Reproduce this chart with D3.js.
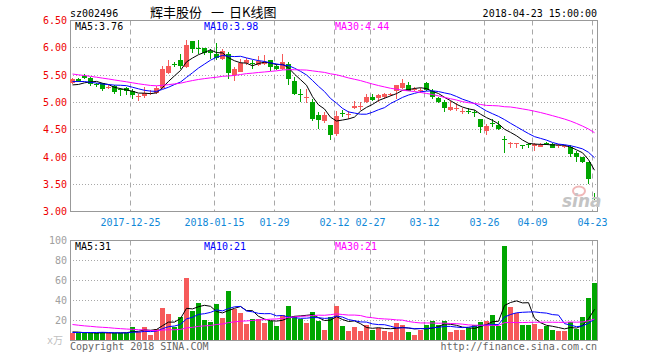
<!DOCTYPE html>
<html><head><meta charset="utf-8">
<script src="https://cdn.jsdelivr.net/npm/d3@7"></script>
<style>
body{margin:0;background:#fff}
svg{display:block}
text{font-family:"DejaVu Sans Mono","Noto Sans CJK SC",monospace;font-size:10px}
</style>
</head><body>
<svg id="c" width="660" height="360"></svg>
<script>
const dates = ["2017-12-11","2017-12-12","2017-12-13","2017-12-14","2017-12-15","2017-12-18","2017-12-19","2017-12-20","2017-12-21","2017-12-22","2017-12-25","2017-12-26","2017-12-27","2017-12-28","2017-12-29",
"2018-01-02","2018-01-03","2018-01-04","2018-01-05","2018-01-08","2018-01-09","2018-01-10","2018-01-11","2018-01-12","2018-01-15","2018-01-16","2018-01-17","2018-01-18","2018-01-19","2018-01-22","2018-01-23","2018-01-24","2018-01-25","2018-01-26","2018-01-29","2018-01-30","2018-01-31",
"2018-02-01","2018-02-02","2018-02-05","2018-02-06","2018-02-07","2018-02-08","2018-02-09","2018-02-12","2018-02-13","2018-02-14","2018-02-22","2018-02-23","2018-02-26","2018-02-27","2018-02-28",
"2018-03-01","2018-03-02","2018-03-05","2018-03-06","2018-03-07","2018-03-08","2018-03-09","2018-03-12","2018-03-13","2018-03-14","2018-03-15","2018-03-16","2018-03-19","2018-03-20","2018-03-21","2018-03-22","2018-03-23","2018-03-26","2018-03-27","2018-03-28","2018-03-29","2018-03-30",
"2018-04-02","2018-04-03","2018-04-04","2018-04-09","2018-04-10","2018-04-11","2018-04-12","2018-04-13","2018-04-16","2018-04-17","2018-04-18","2018-04-19","2018-04-20","2018-04-23"];

const open  = [5.36,5.43,5.49,5.44,5.33,5.35,5.27,5.30,5.24,5.26,5.21,5.10,5.11,5.15,5.17,5.27,5.54,5.70,5.77,5.65,6.12,5.99,6.00,5.95,5.89,5.80,5.89,5.50,5.56,5.73,5.72,5.68,5.71,5.77,5.66,5.62,5.71,5.40,5.16,5.09,5.01,4.77,4.66,4.58,4.42,4.80,4.77,4.89,4.93,5.00,5.10,5.08,5.10,5.13,5.21,5.26,5.32,5.24,5.21,5.36,5.20,5.08,5.01,4.86,4.88,4.84,4.85,4.82,4.69,4.48,4.62,4.58,4.32,4.24,4.25,4.22,4.23,4.20,4.19,4.26,4.23,4.21,4.19,4.19,4.08,3.99,3.90,3.25];
const high  = [5.44,5.45,5.52,5.47,5.36,5.36,5.31,5.32,5.27,5.28,5.24,5.15,5.29,5.23,5.30,5.66,5.77,5.74,5.89,6.15,6.12,6.15,6.00,5.98,6.09,5.97,5.92,5.64,5.80,5.81,5.77,5.85,5.87,5.78,5.70,5.89,5.74,5.46,5.25,5.25,5.07,4.82,4.82,4.58,4.85,4.86,4.84,5.02,5.00,5.15,5.15,5.15,5.17,5.18,5.32,5.43,5.38,5.28,5.26,5.38,5.24,5.10,5.05,5.02,4.98,4.89,4.90,4.86,4.70,4.60,4.69,4.65,4.38,4.28,4.26,4.22,4.26,4.25,4.26,4.28,4.25,4.23,4.22,4.22,4.10,4.00,3.91,3.33];
const low   = [5.33,5.37,5.42,5.30,5.29,5.20,5.24,5.15,5.12,5.13,5.07,5.03,5.08,5.13,5.15,5.25,5.52,5.65,5.61,5.63,5.90,5.89,5.87,5.80,5.78,5.78,5.42,5.40,5.55,5.68,5.61,5.66,5.69,5.58,5.59,5.60,5.32,5.14,5.00,4.99,4.66,4.52,4.62,4.31,4.39,4.74,4.70,4.88,4.86,4.99,5.02,5.00,5.07,5.12,5.06,5.24,5.20,5.20,5.18,5.21,5.06,4.99,4.83,4.84,4.85,4.79,4.79,4.74,4.43,4.41,4.55,4.50,4.08,4.16,4.16,4.15,4.16,4.10,4.18,4.22,4.16,4.16,4.17,3.99,3.91,3.89,3.51,3.21];
const close = [5.42,5.40,5.45,5.33,5.32,5.25,5.28,5.19,5.22,5.20,5.13,5.11,5.18,5.18,5.27,5.62,5.67,5.69,5.67,6.06,5.97,5.98,5.90,5.90,5.81,5.94,5.54,5.62,5.72,5.77,5.70,5.75,5.74,5.65,5.61,5.74,5.43,5.15,5.15,5.10,4.69,4.68,4.77,4.40,4.75,4.78,4.78,4.94,4.94,5.10,5.05,5.14,5.15,5.15,5.31,5.35,5.21,5.25,5.22,5.23,5.10,5.01,4.90,4.92,4.89,4.85,4.84,4.80,4.54,4.57,4.60,4.52,4.31,4.25,4.26,4.21,4.22,4.24,4.22,4.25,4.17,4.22,4.20,4.06,4.00,3.90,3.59,3.23];
const volume = [7,8,7,8,7,9,7,7,8,8,14,9,14,6,12,33,27,14,24,63,30,38,21,19,37,23,50,32,28,17,22,22,18,20,15,26,35,25,22,18,29,20,11,24,35,15,10,14,10,16,11,13,10,9,18,16,9,6,11,16,20,16,20,9,11,11,13,16,19,20,26,15,95,34,28,16,16,17,12,15,11,10,10,19,12,24,43,58];

// closes / volumes of the 29 sessions before the window (needed for the moving averages)
const priorCloses  = [5.85,5.82,5.80,5.78,5.76,5.75,5.74,5.72,5.70,5.68,5.66,5.64,5.62,5.45,5.38,5.30,5.28,5.27,5.28,5.30,5.38,5.45,5.48,5.46,5.43,5.36,5.30,5.25,5.27];
const priorVolumes = [30,26,22,25,20,18,24,21,19,23,20,22,20,18,16,17,15,14,16,14,8,7,8,7,7,9,10,8,9];

const tickDates  = ["2017-12-25","2018-01-15","2018-01-29","2018-02-12","2018-02-27","2018-03-12","2018-03-26","2018-04-09","2018-04-23"];
const tickLabels = ["2017-12-25","2018-01-15","01-29","02-12","02-27","03-12","03-26","04-09","04-23"];
const priceTicks = [3.00,3.50,4.00,4.50,5.00,5.50,6.00,6.50];
const volTicks   = [20,40,60,80,100];

const RED = "#f65a5a", GREEN = "#00a600", GRID = "#a8a8a8", FRAME = "#999";
const MA_COLORS = {5:"#000", 10:"#0000ff", 30:"#ff00ff"};

const svg = d3.select("#c");
const L = 70, R = 598;
const x = d3.scaleBand().domain(dates).range([L, R]).padding(0);
const y = d3.scaleLinear().domain([3, 6.5]).range([211.5, 20.5]);
const yv = d3.scaleLinear().domain([0, 100]).range([340.5, 240.5]);
const snap = v => Math.round(v - 0.5) + 0.5;

function movingAvg(prior, vals, n) {
  const all = prior.concat(vals), off = prior.length;
  return vals.map((_, i) => d3.mean(all.slice(off + i - n + 1, off + i + 1)));
}

// header
svg.append("text").attr("x", 70).attr("y", 16.5).text("sz002496");
const title = svg.append("text").attr("y", 16.5).style("font-family", '"Noto Sans CJK SC"').style("font-size", "13px");
title.append("tspan").attr("x", 150).text("辉丰股份");
title.append("tspan").attr("x", 211).text("一");
title.append("tspan").attr("x", 229).text("日K线图");
svg.append("text").attr("x", 597).attr("y", 16.5).attr("text-anchor", "end").text("2018-04-23 15:00:00");

// grids
function panel(top, bottom, yScale, ticks) {
  const g = svg.append("g");
  ticks.forEach(t => {
    const yy = snap(yScale(t));
    if (yy > top + 1 && yy < bottom - 1)
      g.append("line").attr("x1", L).attr("x2", 598).attr("y1", yy).attr("y2", yy)
        .attr("stroke", GRID).attr("stroke-dasharray", "1,2");
  });
  tickDates.forEach(d => {
    const xx = x(d) + 0.5;
    g.append("line").attr("x1", xx).attr("x2", xx).attr("y1", top).attr("y2", bottom)
      .attr("stroke", GRID).attr("stroke-dasharray", "5,4");
  });
  g.append("rect").attr("x", 70.5).attr("y", top).attr("width", 527).attr("height", bottom - top)
    .attr("fill", "none").attr("stroke", FRAME);
}
panel(20.5, 211.5, y, priceTicks);
panel(240.5, 340.5, yv, volTicks);

// price axis
const ya = svg.append("g").attr("transform", "translate(67,0)")
  .call(d3.axisLeft(y).tickValues(priceTicks).tickFormat(d3.format(".2f")).tickSize(0).tickPadding(0));
ya.select(".domain").remove();
ya.selectAll("text").attr("fill", "#e00").style("font-family", '"DejaVu Sans Mono"').style("font-size", "10px");

const va = svg.append("g").attr("transform", "translate(67,0)")
  .call(d3.axisLeft(yv).tickValues(volTicks).tickSize(0).tickPadding(0));
va.select(".domain").remove();
va.selectAll("text").attr("fill", "#a0a0a0").style("font-family", '"DejaVu Sans Mono"').style("font-size", "10px");

// x labels
svg.append("g").selectAll("text").data(tickDates).join("text")
  .attr("x", d => x(d) + 0.5).attr("y", 226).attr("text-anchor", "middle")
  .attr("fill", "#1188d8").text((d, i) => tickLabels[i]);

// candles
const cg = svg.append("g");
dates.forEach((d, i) => {
  const o = open[i], c = close[i], up = c >= o, col = up ? RED : GREEN;
  const cx = x(d) + 2.5;
  cg.append("line").attr("x1", cx).attr("x2", cx).attr("y1", Math.round(y(high[i]))).attr("y2", Math.round(y(low[i])))
    .attr("stroke", col);
  const yt = Math.round(y(Math.max(o, c))), yb = Math.round(y(Math.min(o, c)));
  cg.append("rect").attr("x", x(d)).attr("width", 5).attr("y", yt).attr("height", Math.max(1, yb - yt)).attr("fill", col);
});

// volume bars
svg.append("g").selectAll("rect").data(volume).join("rect")
  .attr("x", (v, i) => x(dates[i])).attr("width", 5)
  .attr("y", v => Math.round(yv(v))).attr("height", v => 340 - Math.round(yv(v)))
  .attr("fill", (v, i) => close[i] >= open[i] ? RED : GREEN);

// moving averages
const line = (sc) => d3.line().x((v, i) => x(dates[i]) + 2.5).y(v => sc(v));
const labX = {5: 75, 10: 204, 30: 335};
[5, 10, 30].forEach(n => {
  const pm = movingAvg(priorCloses, close, n);
  svg.append("path").attr("d", line(y)(pm)).attr("fill", "none").attr("stroke", MA_COLORS[n]).attr("stroke-width", 1);
  const vm = movingAvg(priorVolumes, volume, n);
  svg.append("path").attr("d", line(yv)(vm)).attr("fill", "none").attr("stroke", MA_COLORS[n]).attr("stroke-width", 1);
  svg.append("text").attr("x", labX[n]).attr("y", 29.5).attr("fill", MA_COLORS[n]).text("MA" + n + ":" + pm[pm.length - 1].toFixed(2));
  svg.append("text").attr("x", labX[n]).attr("y", 249.5).attr("fill", MA_COLORS[n]).text("MA" + n + ":" + Math.round(vm[vm.length - 1]));
});

// watermark
const wm = svg.append("g");
wm.append("ellipse").attr("cx", 579).attr("cy", 191).attr("rx", 6).attr("ry", 4.5).attr("fill", "none").attr("stroke", "#f0b8b8").attr("stroke-width", 2);
wm.append("text").attr("x", 562).attr("y", 207).attr("fill", "#c4c4c4")
  .style("font-family", '"DejaVu Sans"').style("font-size", "17px").style("font-weight", "bold").style("font-style", "italic").text("sina");

// footer
svg.append("text").attr("x", 47).attr("y", 344).attr("fill", "#c0c0c0").text("x万");
svg.append("text").attr("x", 70).attr("y", 350).attr("fill", "#666").text("Copyright 2018 SINA.COM");
svg.append("text").attr("x", 597).attr("y", 350).attr("text-anchor", "end").attr("fill", "#666").text("http://finance.sina.com.cn");
</script>
</body></html>
